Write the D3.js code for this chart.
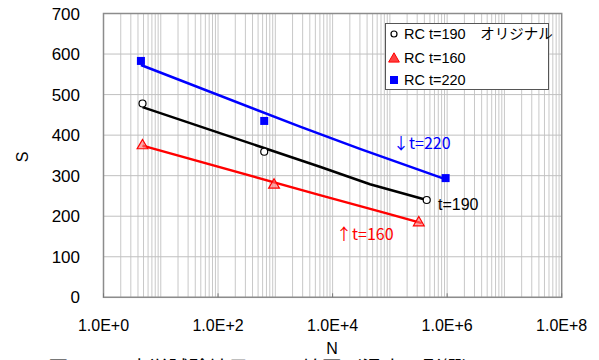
<!DOCTYPE html>
<html lang="ja">
<head>
<meta charset="UTF-8"/>
<title>S-N</title>
<script src="https://d3js.org/d3.v7.min.js"></script>
<style>
  body { margin: 0; background: white; }
  svg text { font-family: "Liberation Sans", Arial, sans-serif; }
  .jp { font-family: "Noto Sans CJK JP", sans-serif; }
</style>
</head>
<body>
<script>
// measured points (N, S)
var rc190N = [4.8, 640, 4.4e5];
var rc190S = [478, 359, 240];
var rc160N = [4.8, 950, 3.2e5];
var rc160S = [374, 277, 184];
var rc220N = [4.5, 640, 9.4e5];
var rc220S = [583, 435, 294];

// fitted lines
var fit190N = [4.8, 6000, 45000, 4.4e5];
var fit190S = [469, 322, 279, 240];
var fit160N = [4.8, 6000, 88000, 3.6e5];
var fit160S = [374, 252, 207, 183];
var fit220N = [4.5, 2700, 30000, 9.5e5];
var fit220S = [573, 421, 366, 291];

var xTicks = [1, 1e2, 1e4, 1e6, 1e8];
var xTickLabels = ["1.0E+0", "1.0E+2", "1.0E+4", "1.0E+6", "1.0E+8"];
var yTicks = [0, 100, 200, 300, 400, 500, 600, 700];
var legendNames = ["RC t=190\u3000オリジナル", "RC t=160", "RC t=220"];

var w = 599, h = 360;
var svg = d3.select("body").append("svg")
	.attr("width", w)
	.attr("height", h);

var x = d3.scaleLog().domain([1, 1e8]).range([103.5, 561.7]);
var y = d3.scaleLinear().domain([0, 700]).range([297.3, 13.5]);

// grid
var minor = [];
for (var k = 0; k < 8; k++) {
	for (var m = 1; m <= 9; m++) minor.push(m * Math.pow(10, k));
}
svg.append("g").selectAll("line")
	.data(minor)
	.enter().append("line")
	.attr("x1", function(d){ return x(d); })
	.attr("x2", function(d){ return x(d); })
	.attr("y1", y(0)).attr("y2", y(700))
	.attr("stroke", "#c8c8c8").attr("stroke-width", 1);

svg.append("g").selectAll("line")
	.data(yTicks)
	.enter().append("line")
	.attr("x1", x(1)).attr("x2", x(1e8))
	.attr("y1", function(d){ return y(d); })
	.attr("y2", function(d){ return y(d); })
	.attr("stroke", "#c0c0c0").attr("stroke-width", 1);

svg.append("rect")
	.attr("x", x(1)).attr("y", y(700))
	.attr("width", x(1e8) - x(1)).attr("height", y(0) - y(700))
	.attr("fill", "none").attr("stroke", "#8c8c8c").attr("stroke-width", 1.5);

// small inward ticks at labelled decades
svg.append("g").selectAll("line")
	.data(xTicks)
	.enter().append("line")
	.attr("x1", function(d){ return x(d); })
	.attr("x2", function(d){ return x(d); })
	.attr("y1", y(0)).attr("y2", y(0) - 4)
	.attr("stroke", "#777");

// tick labels
svg.append("g").selectAll("text")
	.data(yTicks)
	.enter().append("text")
	.attr("x", 80)
	.attr("y", function(d){ return y(d); })
	.attr("dy", "0.36em")
	.attr("text-anchor", "end")
	.attr("font-size", 17)
	.text(function(d){ return d; });

svg.append("g").selectAll("text")
	.data(xTicks)
	.enter().append("text")
	.attr("x", function(d){ return x(d); })
	.attr("y", 331)
	.attr("text-anchor", "middle")
	.attr("font-size", 16)
	.text(function(d, i){ return xTickLabels[i]; });

svg.append("text")
	.attr("transform", "translate(28,157) rotate(-90)")
	.attr("text-anchor", "middle")
	.attr("font-size", 16)
	.text("S");

svg.append("text")
	.attr("x", 332).attr("y", 354)
	.attr("text-anchor", "middle")
	.attr("font-size", 16)
	.text("N");

// fitted lines
var line = d3.line()
	.x(function(d){ return x(d[0]); })
	.y(function(d){ return y(d[1]); });

function pairs(a, b) { return a.map(function(v, i){ return [v, b[i]]; }); }

svg.append("path").datum(pairs(fit220N, fit220S))
	.attr("d", line).attr("fill", "none").attr("stroke", "#0000ff").attr("stroke-width", 2.5);
svg.append("path").datum(pairs(fit190N, fit190S))
	.attr("d", line).attr("fill", "none").attr("stroke", "#000").attr("stroke-width", 2.5);
svg.append("path").datum(pairs(fit160N, fit160S))
	.attr("d", line).attr("fill", "none").attr("stroke", "#ff0000").attr("stroke-width", 2.5);

// markers
svg.append("g").selectAll("rect")
	.data(pairs(rc220N, rc220S))
	.enter().append("rect")
	.attr("x", function(d){ return x(d[0]) - 4; })
	.attr("y", function(d){ return y(d[1]) - 4; })
	.attr("width", 8).attr("height", 8)
	.attr("fill", "#0000ff");

svg.append("g").selectAll("circle")
	.data(pairs(rc190N, rc190S))
	.enter().append("circle")
	.attr("cx", function(d){ return x(d[0]); })
	.attr("cy", function(d){ return y(d[1]); })
	.attr("r", 3.5)
	.attr("fill", "white").attr("stroke", "#000").attr("stroke-width", 1.2);

var tri = d3.symbol().type(d3.symbolTriangle).size(50);
svg.append("g").selectAll("path")
	.data(pairs(rc160N, rc160S))
	.enter().append("path")
	.attr("d", tri)
	.attr("transform", function(d){ return "translate(" + x(d[0]) + "," + y(d[1]) + ")"; })
	.attr("fill", "#ff7070").attr("fill-opacity", 0.6)
	.attr("stroke", "#ff0000").attr("stroke-width", 1.2);

// annotations
svg.append("text").attr("class", "jp")
	.attr("x", 393).attr("y", 149)
	.attr("font-size", 16).attr("fill", "#0000ff")
	.text("↓t=220");
svg.append("text")
	.attr("x", 438).attr("y", 210)
	.attr("font-size", 16).attr("fill", "#000")
	.text("t=190");
svg.append("text").attr("class", "jp")
	.attr("x", 336).attr("y", 240)
	.attr("font-size", 16).attr("fill", "#ff0000")
	.text("↑t=160");

// legend
var lg = svg.append("g");
lg.append("rect")
	.attr("x", 385.5).attr("y", 23.5)
	.attr("width", 163).attr("height", 66)
	.attr("fill", "white").attr("stroke", "#555").attr("stroke-width", 1);

var legendY = [34, 58, 80];
lg.selectAll("text")
	.data(legendNames)
	.enter().append("text")
	.attr("x", 404)
	.attr("y", function(d, i){ return legendY[i]; })
	.attr("dy", "0.36em")
	.attr("font-size", 14.5)
	.style("font-family", "'Liberation Sans', 'Noto Sans CJK JP', sans-serif")
	.text(function(d){ return d; });

lg.append("circle").attr("cx", 394).attr("cy", legendY[0]).attr("r", 3)
	.attr("fill", "white").attr("stroke", "#000").attr("stroke-width", 1.2);
lg.append("path").attr("d", tri)
	.attr("transform", "translate(394," + (legendY[1] + 1) + ")")
	.attr("fill", "#ff4040").attr("stroke", "#ff0000");
lg.append("rect").attr("x", 390).attr("y", legendY[2] - 4)
	.attr("width", 8).attr("height", 8).attr("fill", "#0000ff");

// caption, mostly cut off at the bottom edge (as in the original)
svg.append("text").attr("class", "jp")
	.attr("x", 265).attr("y", 376)
	.attr("text-anchor", "middle")
	.attr("font-size", 20)
	.text("図－３　疲労試験結果のS-N線図（温度の影響）");
</script>
</body>
</html>
